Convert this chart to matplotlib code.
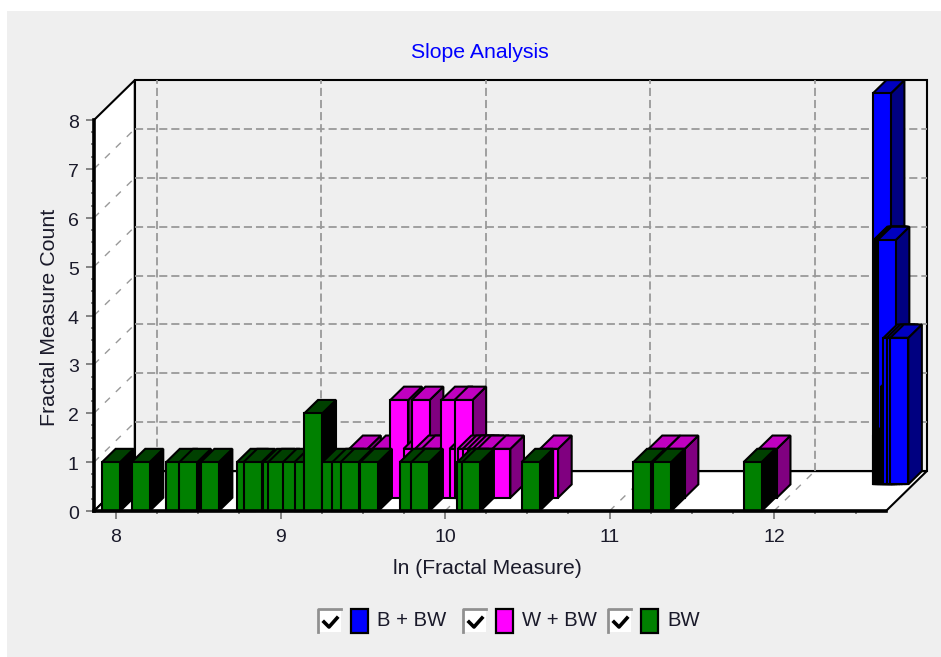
import matplotlib
matplotlib.use('Agg')
import matplotlib.pyplot as plt
from matplotlib.patches import Polygon, Rectangle
from matplotlib.lines import Line2D
from matplotlib.transforms import ScaledTranslation

plt.rcParams['font.family'] = ['Liberation Sans', 'DejaVu Sans']

# (x, count), in drawing order
bw_x = [7.97, 8.15, 8.36, 8.44, 8.57, 8.79, 8.83, 8.95, 8.98, 9.07, 9.14, 9.20,
        9.31, 9.37, 9.42, 9.54, 9.78, 9.85, 10.13, 10.16, 10.52, 11.20, 11.32, 11.87]
bw_y = [1, 1, 1, 1, 1, 1, 1, 1, 1, 1, 1, 2,
        1, 1, 1, 1, 1, 1, 1, 1, 1, 1, 1, 1]
w_x = [9.39, 9.53, 9.64, 9.72, 9.77, 9.79, 9.83, 9.95, 10.00, 10.03, 10.05, 10.08,
       10.11, 10.14, 10.17, 10.26, 10.55, 11.21, 11.32, 11.88]
w_y = [1, 1, 2, 1, 2, 1, 1, 2, 1, 2, 1, 1,
       1, 1, 1, 1, 1, 1, 1, 1]
b_x = [12.49, 12.495, 12.50, 12.505, 12.51, 12.515, 12.52,
       12.49, 12.50, 12.51, 12.52, 12.53, 12.54,
       12.54, 12.55, 12.56, 12.57, 12.58, 12.59,
       12.555, 12.575, 12.596]
b_y = [8, 5, 5, 5, 5, 5, 5,
       1, 1, 1, 1, 1, 1,
       2, 2, 2, 2, 2, 2,
       3, 3, 3]

W, H = 941, 657
BG = '#efefef'
GRID = '#999999'
TXT = '#1a1a2a'

fig = plt.figure(figsize=(W / 100, H / 100), dpi=100, facecolor='white')

def px(x, y):
    return x / W, 1 - y / H

# grey panel
fig.add_artist(Rectangle(px(7, 657), 934 / W, 646 / H, transform=fig.transFigure,
                         fc=BG, ec='none', zorder=-5))

l, b = px(94, 511)
ax = fig.add_axes([l, b, 792 / W, 391 / H])
ax.patch.set_alpha(0)
ax.set_xlim(8 - 22 / 164.5, 8 + 770 / 164.5)
ax.set_ylim(0, 8)

# one series layer deep, in data units
DX = 13.6 / 164.5
DY = 13.3 / 48.9
BAR_W = 18 / 164.5

xa, xb = ax.get_xlim()
ya, yb = ax.get_ylim()
bx = xa + 3 * DX
by = ya + 3 * DY

def poly(pts, fc, ec='black', lw=1.5, z=1):
    ax.add_patch(Polygon(pts, closed=True, fc=fc, ec=ec, lw=lw, zorder=z, clip_on=False,
                         joinstyle='miter'))

def gridline(xs, ys, ls=(0, (4.5, 2.2)), lw=1.3):
    ax.plot(xs, ys, color=GRID, lw=lw, ls=ls, zorder=1.5, clip_on=False)

xticks = [8, 9, 10, 11, 12]
yticks = [0, 1, 2, 3, 4, 5, 6, 7, 8]
for v in yticks[1:-1]:
    gridline([bx, xb + 3 * DX], [v + 3 * DY, v + 3 * DY])
    gridline([xa, bx], [v, v + 3 * DY], ls=(0, (5, 6)), lw=1.0)
for v in xticks:
    gridline([v + 3 * DX, v + 3 * DX], [by, yb + 3 * DY])
    gridline([v, v + 3 * DX], [ya, by], ls=(0, (5, 6)), lw=1.0)

# walls and floor, under the grid
poly([(xa, ya), (bx, by), (bx, yb + 3 * DY), (xa, yb)], 'white', z=1)
poly([(xa, ya), (xb, ya), (xb + 3 * DX, by), (bx, by)], 'white', z=1)
poly([(bx, by), (xb + 3 * DX, by), (xb + 3 * DX, yb + 3 * DY), (bx, yb + 3 * DY)], BG, z=1)

zc = [2]

def bar3d(x, h, layer, front, top, side):
    z = zc[0]
    zc[0] += 1
    x0 = x - BAR_W / 2 + layer * DX
    x1 = x0 + BAR_W
    y0 = layer * DY
    y1 = h + y0
    poly([(x1, y0), (x1 + DX, y0 + DY), (x1 + DX, y1 + DY), (x1, y1)], side, z=z)
    poly([(x0, y1), (x1, y1), (x1 + DX, y1 + DY), (x0 + DX, y1 + DY)], top, z=z)
    poly([(x0, y0), (x1, y0), (x1, y1), (x0, y1)], front, z=z)

for x, h in zip(b_x, b_y):
    bar3d(x, h, 2, '#0000ff', '#0000c0', '#000080')
for x, h in zip(w_x, w_y):
    bar3d(x, h, 1, '#ff00ff', '#c000c0', '#800080')
for x, h in zip(bw_x, bw_y):
    bar3d(x, h, 0, '#008000', '#004000', '#000000')

for s in ['top', 'right']:
    ax.spines[s].set_visible(False)
ax.spines['left'].set_linewidth(2.6)
ax.spines['bottom'].set_linewidth(2.6)
ax.spines['left'].set_zorder(1000)
ax.spines['bottom'].set_zorder(1000)

ax.set_xticks(xticks)
ax.set_yticks(yticks)
ax.set_xticks([8 + 0.25 * i for i in range(19) if i % 4], minor=True)
ax.set_yticks([0.25 * i for i in range(33) if i % 4], minor=True)
ax.tick_params(axis='both', which='major', length=6, width=1.1, color='#666666', labelsize=14,
               labelcolor=TXT)
ax.tick_params(axis='both', which='minor', length=2.5, width=1.1, color='#666666')
ax.tick_params(axis='x', which='major', pad=7)
ax.tick_params(axis='y', which='major', pad=5)
for t in ax.get_yticklabels():
    t.set_transform(t.get_transform() + ScaledTranslation(0, -1.5 / 100, fig.dpi_scale_trans))

fig.text(*px(480, 53), 'Slope Analysis', color='#0000ff', fontsize=15.3, ha='center', va='center')
fig.text(*px(487, 568), 'ln (Fractal Measure)', color=TXT, fontsize=15.2, ha='center', va='center')
fig.text(*px(50, 317), 'Fractal Measure Count', color=TXT, fontsize=15.4, rotation=90,
         ha='center', va='center')

# legend: checkbox, swatch, label
legend_items = [('B + BW', '#0000ff', 317), ('W + BW', '#ff00ff', 462), ('BW', '#008000', 607)]
for name, col, lx in legend_items:
    fig.add_artist(Rectangle(px(lx, 632), 24 / W, 24 / H, transform=fig.transFigure,
                             fc='white', ec='none'))
    fig.add_artist(Line2D([px(lx + 1, 632)[0], px(lx + 1, 609)[0], px(lx + 24, 609)[0]],
                          [px(lx + 1, 632)[1], px(lx + 1, 609)[1], px(lx + 24, 609)[1]],
                          color='#909090', lw=2))
    fig.add_artist(Line2D([px(lx + 7, 622)[0], px(lx + 12, 627)[0], px(lx + 20, 618)[0]],
                          [px(lx + 7, 622)[1], px(lx + 12, 627)[1], px(lx + 20, 618)[1]],
                          color='black', lw=2.6))
    fig.add_artist(Rectangle(px(lx + 34, 633), 17 / W, 24 / H, transform=fig.transFigure,
                             fc=col, ec='black', lw=1.6))
    fig.text(*px(lx + 60, 621), name, color=TXT, fontsize=14.6, ha='left', va='center')

fig.savefig('out.png', dpi=100, facecolor=fig.get_facecolor())
plt.close(fig)
